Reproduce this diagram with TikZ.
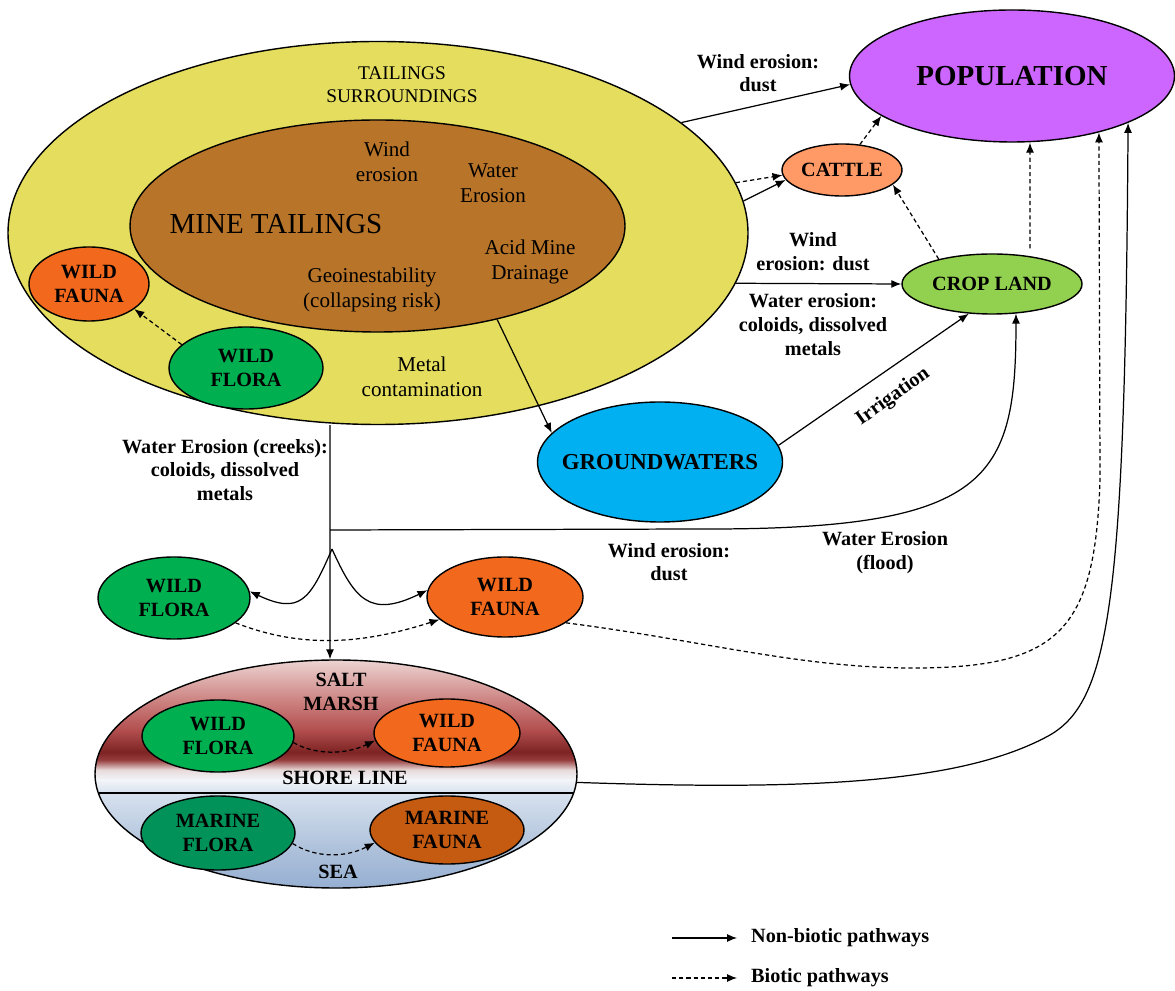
\documentclass[tikz,border=0pt]{standalone}
\usepackage{fontspec}
\setmainfont{Liberation Serif}
\usetikzlibrary{shapes.geometric,arrows.meta}

\definecolor{tailyellow}{RGB}{228,221,94}
\definecolor{minebrown}{RGB}{184,116,40}
\definecolor{faunaorange}{RGB}{242,104,28}
\definecolor{floragreen}{RGB}{0,176,80}
\definecolor{poppurple}{RGB}{204,102,255}
\definecolor{cattlesalmon}{RGB}{255,153,102}
\definecolor{cropgreen}{RGB}{146,208,80}
\definecolor{groundblue}{RGB}{0,176,240}
\definecolor{marinegreen}{RGB}{0,146,88}
\definecolor{marinebrown}{RGB}{197,90,17}
% colours of the coast, from the sea up to the marsh
\definecolor{cs1}{RGB}{150,175,210}
\definecolor{cs2}{RGB}{172,192,218}
\definecolor{cs3}{RGB}{215,225,238}
\definecolor{cs4}{RGB}{242,245,249}
\definecolor{cs5}{RGB}{232,218,218}
\definecolor{cs6}{RGB}{150,60,60}
\definecolor{cs7}{RGB}{125,35,35}
\definecolor{cs8}{RGB}{178,78,78}
\definecolor{cs9}{RGB}{205,132,130}
\definecolor{cs10}{RGB}{236,212,210}
\pgfdeclareverticalshading{coastshade}{100bp}{color(0bp)=(cs1); color(25bp)=(cs1); color(33bp)=(cs2); color(45.8bp)=(cs3); color(48.7bp)=(cs4); color(50.9bp)=(cs5); color(53.1bp)=(cs6); color(54.8bp)=(cs7); color(59.6bp)=(cs8); color(66.2bp)=(cs9); color(75bp)=(cs10); color(100bp)=(cs10)}

\newcommand\lblfont{\fontsize{11.5}{13.5}\selectfont\bfseries}

\tikzset{
  blob/.style={ellipse, draw, line width=0.8pt, inner sep=0pt, align=center, font=\lblfont},
  flow/.style={-{Latex[length=2mm,width=1.6mm]}, line width=0.7pt},
  bio/.style={flow, dash pattern=on 2.4pt off 1.7pt},
  note/.style={align=center, font=\lblfont},
  tailtext/.style={align=center, font=\fontsize{12}{14}\selectfont}
}

\begin{document}
\begin{tikzpicture}
    \useasboundingbox (0,0) rectangle (23.5,19.8);
    % tailings and their surroundings
    \node[blob, fill=tailyellow, minimum width=14.8cm, minimum height=7.66cm] (tail) at (7.56,15.14) {};
    \node[blob, fill=minebrown, minimum width=9.9cm, minimum height=4.24cm] (mine) at (7.55,15.28) {};
    \node[tailtext, font=\fontsize{11}{13}\selectfont] (tsur) at (8.04,18.1) {TAILINGS\\SURROUNDINGS};
    \node[tailtext, font=\fontsize{16.5}{18}\selectfont] (tmine) at (5.52,15.32) {MINE TAILINGS};
    \node[tailtext] (twind) at (7.74,16.56) {Wind\\erosion};
    \node[tailtext] (twater) at (9.86,16.14) {Water\\Erosion};
    \node[tailtext] (tacid) at (10.6,14.56) {Acid Mine\\Drainage};
    \node[tailtext] (tgeo) at (7.44,14.0) {Geoinestability\\(collapsing risk)};
    \node[tailtext] (tmetal) at (8.44,12.26) {Metal\\contamination};
    \node[blob, fill=faunaorange, minimum width=2.4cm, minimum height=1.48cm] (fauna1) at (1.78,14.12) {WILD\\FAUNA};
    \node[blob, fill=floragreen, minimum width=3.08cm, minimum height=1.64cm] (flora1) at (4.92,12.44) {WILD\\FLORA};

    % receptors
    \node[blob, fill=poppurple, minimum width=6.5cm, minimum height=2.64cm, font=\fontsize{16.5}{18}\selectfont\bfseries] (pop) at (20.24,18.28) {POPULATION};
    \node[blob, fill=cattlesalmon, minimum width=2.4cm, minimum height=1.04cm] (cattle) at (16.84,16.4) {CATTLE};
    \node[blob, fill=cropgreen, minimum width=3.6cm, minimum height=1.2cm] (crop) at (19.84,14.12) {CROP LAND};
    \node[blob, fill=groundblue, minimum width=4.9cm, minimum height=2.4cm, inner xsep=-12pt, font=\fontsize{13}{15}\selectfont\bfseries] (ground) at (13.2,10.56) {GROUNDWATERS};
    \node[blob, fill=floragreen, minimum width=3.04cm, minimum height=1.64cm] (flora2) at (3.48,7.84) {WILD\\FLORA};
    \node[blob, fill=faunaorange, minimum width=3.12cm, minimum height=1.6cm] (fauna2) at (10.1,7.86) {WILD\\FAUNA};

    % salt marsh and sea
    \node[blob, shading=coastshade, minimum width=9.64cm, minimum height=4.56cm,
          path picture={\draw[line width=1pt] ([yshift=-0.38cm]path picture bounding box.west) -- ([yshift=-0.38cm]path picture bounding box.east);}] (coast) at (6.72,4.32) {};
    \node[note] (salt) at (6.82,5.96) {SALT\\MARSH};
    \node[note] (shore) at (6.9,4.24) {SHORE LINE};
    \node[note] (sea) at (6.76,2.36) {SEA};
    \node[blob, fill=floragreen, minimum width=3.04cm, minimum height=1.44cm] (flora3) at (4.36,5.08) {WILD\\FLORA};
    \node[blob, fill=faunaorange, minimum width=2.92cm, minimum height=1.36cm] (fauna3) at (8.94,5.14) {WILD\\FAUNA};
    \node[blob, fill=marinegreen, minimum width=3.08cm, minimum height=1.48cm] (flora4) at (4.36,3.14) {MARINE\\FLORA};
    \node[blob, fill=marinebrown, minimum width=3.08cm, minimum height=1.36cm] (fauna4) at (8.94,3.2) {MARINE\\FAUNA};

    % pathway labels
    \node[note] (lwd1) at (15.16,18.34) {Wind erosion:\\dust};
    \node[note] (lwd2) at (16.26,14.76) {Wind\\erosion: dust};
    \node[note] (lwe) at (16.26,13.31) {Water erosion:\\coloids, dissolved\\metals};
    \node[note, rotate=35.6] (lirr) at (17.86,11.86) {Irrigation};
    \node[note] (lcreek) at (4.5,10.4) {Water Erosion (creeks):\\coloids, dissolved\\metals};
    \node[note] (lwd3) at (13.38,8.56) {Wind erosion:\\dust};
    \node[note] (lflood) at (17.7,8.74) {Water Erosion\\(flood)};

    % pathways
    \draw[flow] (tail.20) -- (pop.183);
    \draw[bio] (tail.8) -- (cattle.185);
    \draw[flow] (tail.5) -- (cattle.190);
    \draw[flow] (tail.-8) -- (crop.west);
    \draw[bio] (cattle.55) -- (pop.197);
    \draw[bio] (crop.155) -- (cattle.-16);
    \draw[bio] ([xshift=0.76cm,yshift=0.1cm]crop.north) -- ([xshift=0.36cm]pop.south);
    \draw[flow] (mine.-38) -- (ground.165);
    \draw[flow] (ground.8) -- (crop.232);
    \draw[bio] (flora1.160) -- (fauna1.-29);

    \coordinate (split) at (6.6,9.2);
    \coordinate (spike) at (6.64,8.82);
    \draw[flow] ([xshift=-0.96cm]tail.south) -- ([xshift=-0.12cm]coast.north);
    \draw[flow] (split) -- (14,9.22) .. controls (19.8,9.2) and (20.32,10.2) .. (crop.-51);
    \draw[flow] (spike) .. controls (6.2,7.8) and (6.0,7.5) .. (flora2.5);
    \draw[flow] (spike) .. controls (7.1,7.8) and (7.4,7.44) .. (fauna2.175);
    \draw[bio] (flora2.-22) .. controls (6.0,6.84) and (7.2,6.9) .. (fauna2.199);
    \draw[bio] (fauna2.-23) .. controls (14.0,7.0) and (16.0,6.44) .. (18.26,6.44)
        .. controls (21.2,6.44) and (21.9,7.2) .. (22.0,10.2) -- (pop.-33);
    \draw[flow] (coast.-2) .. controls (16.0,4.0) and (19.2,4.1) .. (21.0,5.1)
        .. controls (22.2,5.8) and (22.5,7.8) .. (pop.-22);
    \draw[bio] (flora3.-5) .. controls (6.3,4.7) and (6.9,4.7) .. (fauna3.186);
    \draw[bio] (flora4.-8) .. controls (6.3,2.64) and (6.9,2.64) .. (fauna4.190);

    % legend
    \coordinate (k1) at (13.44,1.04);
    \coordinate (k2) at (13.44,0.24);
    \node[note, anchor=west] (leg1) at (14.9,1.04) {Non-biotic pathways};
    \node[note, anchor=west] (leg2) at (14.9,0.24) {Biotic pathways};
    \draw[flow, shorten >=4.5pt] (k1) -- (leg1.west);
    \draw[bio, shorten >=4.5pt] (k2) -- (leg2.west);
\end{tikzpicture}
\end{document}
